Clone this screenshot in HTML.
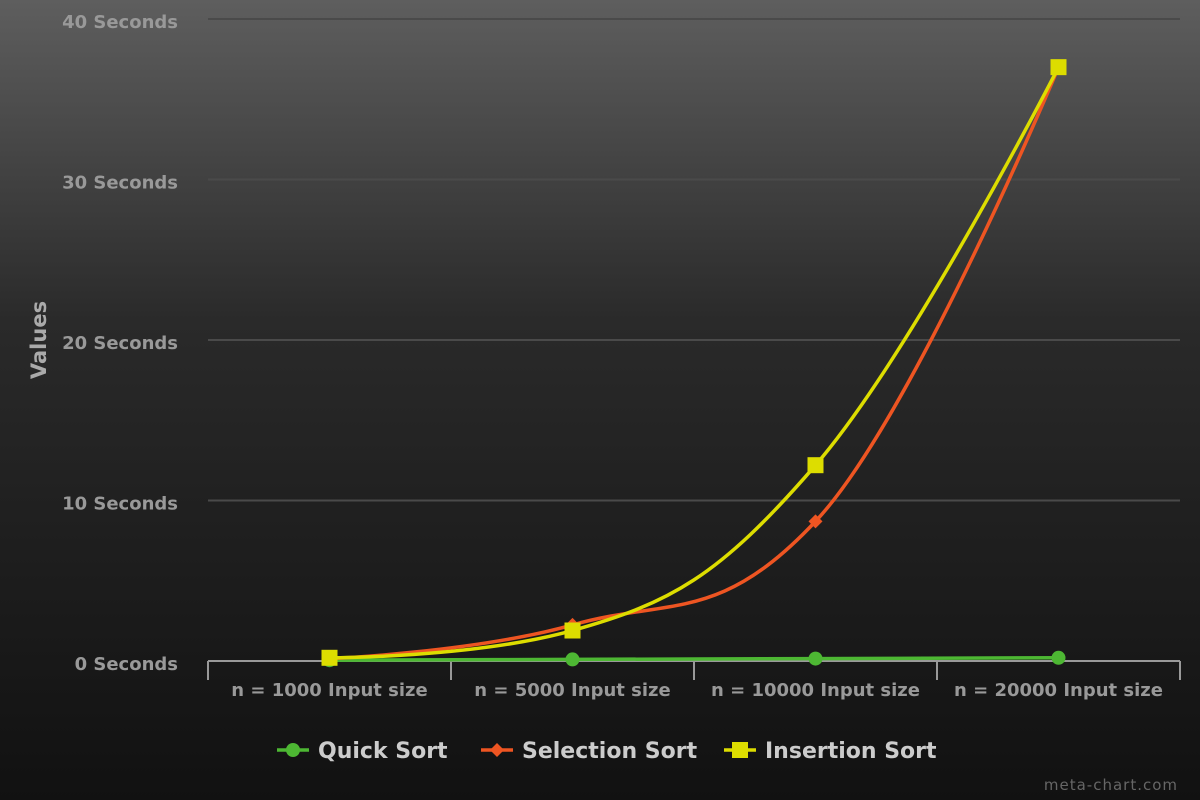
<!DOCTYPE html>
<html><head><meta charset="utf-8"><style>
html,body{margin:0;padding:0;width:1200px;height:800px;overflow:hidden}
body{background:linear-gradient(#5e5e5e 0%,#2a2a2a 40%,#111 100%);font-family:"DejaVu Sans","Liberation Sans",sans-serif;font-weight:bold}
svg text{font-family:"DejaVu Sans","Liberation Sans",sans-serif;font-weight:bold}
</style></head><body>
<svg id="chart" width="1200" height="800" xmlns="http://www.w3.org/2000/svg">
<g id="grid"></g>
<g id="yaxis"></g>
<g id="xaxis"></g>
<text x="46" y="340" transform="rotate(-90 46 340)" text-anchor="middle" font-size="21" fill="#aaa">Values</text>
<g id="series"></g>
<g id="legend"></g>
<text x="1178" y="790" text-anchor="end" font-size="15" fill="#666" style="font-weight:normal;letter-spacing:1px">meta-chart.com</text>
</svg>
<script>
const categories=["n = 1000 Input size","n = 5000 Input size","n = 10000 Input size","n = 20000 Input size"];
const yTicks=[0,10,20,30,40];
const quickSort=[0.05,0.1,0.15,0.2];
const selectionSort=[0.15,2.25,8.7,37.0];
const insertionSort=[0.2,1.9,12.2,37.0];
const seriesNames=["Quick Sort","Selection Sort","Insertion Sort"];

const NS="http://www.w3.org/2000/svg";
const L=208,R=1180,T=19,B=661,yMax=40;
const bw=(R-L)/categories.length;
const xs=i=>L+bw*(i+0.5);
const ys=v=>B-(v/yMax)*(B-T);
function mk(tag,attrs,parent){const e=document.createElementNS(NS,tag);for(const k in attrs)e.setAttribute(k,attrs[k]);parent.appendChild(e);return e;}
const grid=document.getElementById('grid'),yax=document.getElementById('yaxis'),xax=document.getElementById('xaxis');
yTicks.forEach(t=>{
  if(t>0){const g=mk('line',{x1:L,x2:R,y1:ys(t),y2:ys(t),stroke:'#4a4a4a','stroke-width':2},grid);
  
  }
  const tx=mk('text',{x:178,y:ys(t)+9,'text-anchor':'end','font-size':18,fill:'#999'},yax);
  tx.textContent=t+' Seconds';
  
  
});
const ax=mk('line',{x1:L,x2:R,y1:B,y2:B,stroke:'#999','stroke-width':2},xax);


for(let i=0;i<=categories.length;i++){
  const tk=mk('line',{x1:L+bw*i,x2:L+bw*i,y1:B,y2:B+19,stroke:'#999','stroke-width':2},xax);
  
  
}
categories.forEach((c,i)=>{
  const tx=mk('text',{x:xs(i),y:696,'text-anchor':'middle','font-size':18,fill:'#999'},xax);
  tx.textContent=c;
  
  
});
function spline(vals){
  const p=vals.map((v,i)=>[xs(i),ys(v)]);
  const s=1.5,d=2.5;const ctl=[];
  for(let i=0;i<p.length;i++){
    if(i===0||i===p.length-1){ctl.push({l:p[i],r:p[i]});continue;}
    const [x,y]=p[i],[px,py]=p[i-1],[nx,ny]=p[i+1];
    let lx=(s*x+px)/d,ly=(s*y+py)/d,rx=(s*x+nx)/d,ry=(s*y+ny)/d;
    const c=((ry-ly)*(rx-x))/(rx-lx)+y-ry;ly+=c;ry+=c;
    if(ly>py&&ly>y){ly=Math.max(py,y);ry=2*y-ly;}else if(ly<py&&ly<y){ly=Math.min(py,y);ry=2*y-ly;}
    if(ry>ny&&ry>y){ry=Math.max(ny,y);ly=2*y-ry;}else if(ry<ny&&ry<y){ry=Math.min(ny,y);ly=2*y-ry;}
    ctl.push({l:[lx,ly],r:[rx,ry]});
  }
  let dstr='M'+p[0][0]+' '+p[0][1];
  for(let i=1;i<p.length;i++){dstr+=' C'+ctl[i-1].r.join(' ')+' '+ctl[i].l.join(' ')+' '+p[i].join(' ');}
  return dstr;
}
function marker(kind,x,y,color,g){
  let m;
  if(kind==='circle')m=mk('circle',{cx:x,cy:y,r:7,fill:color},g);
  else if(kind==='diamond')m=mk('path',{d:`M${x} ${y-7}L${x+7} ${y}L${x} ${y+7}L${x-7} ${y}Z`,fill:color},g);
  else m=mk('rect',{x:x-8,y:y-8,width:16,height:16,fill:color},g);
  return m;
}
const sg=document.getElementById('series');
const defs=[[quickSort,'#4db733','circle'],[selectionSort,'#ee5522','diamond'],[insertionSort,'#dddd00','square']];
defs.forEach(([vals,color,kind],si)=>{
  const g=mk('g',{},sg);
  
  
  const pth=mk('path',{d:spline(vals),fill:'none',stroke:color,'stroke-width':3.5},g);
  
  
  vals.forEach((v,i)=>{
    const m=marker(kind,xs(i),ys(v),color,g);
    
    
  });
});
const lg=document.getElementById('legend');
const lx=[277,481,724];
defs.forEach(([vals,color,kind],si)=>{
  const g=mk('g',{},lg);
  
  
  mk('line',{x1:lx[si],x2:lx[si]+32,y1:750,y2:750,stroke:color,'stroke-width':3.5},g);
  marker(kind,lx[si]+16,750,color,g);
  const t=mk('text',{x:lx[si]+41,y:758,'font-size':22,fill:'#ccc'},g);
  t.textContent=seriesNames[si];
});
</script>
</body></html>
